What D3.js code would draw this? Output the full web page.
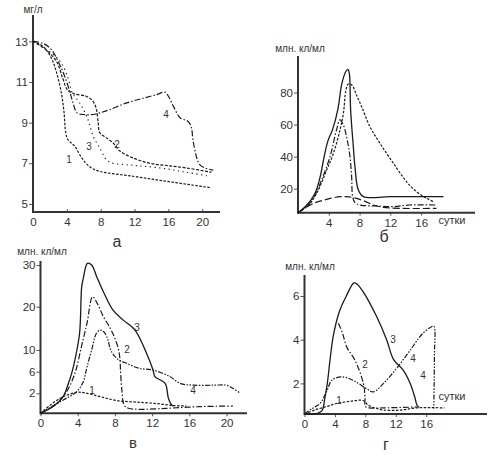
<!DOCTYPE html>
<html>
<head>
<meta charset="utf-8">
<script src="https://cdn.jsdelivr.net/npm/d3@7"></script>
<style>
  body { margin: 0; background: #fff; }
  svg { display: block; font-family: "Liberation Sans", Arial, sans-serif; }
</style>
</head>
<body>
<svg id="chart" width="501" height="461"></svg>
<script>
// --- panel а : мг/л over days ---
var aTicksX = [0, 4, 8, 12, 16, 20];
var aTicksY = [5, 7, 9, 11, 13];
var aLine1 = [[0,13],[1.2,12.75],[2.17,12.18],[2.76,11.5],[3.35,10.46],[3.67,9.5],[3.87,8.5],[4.14,8.16],[4.93,7.84],[5.9,7.18],[6.9,6.77],[7.9,6.6],[11.8,6.36],[15.8,6.11],[21.1,5.79]];
var aLine2 = [[0,13],[1.5,12.6],[2.8,12.0],[3.5,11.2],[4.1,10.6],[4.93,10.41],[6.3,10.3],[7.1,10.05],[7.5,9.64],[7.7,9.0],[7.9,8.5],[8.68,8.25],[9.47,8.0],[10.26,7.6],[11.83,7.26],[13.8,7.0],[15.8,6.89],[18.1,6.77],[21.1,6.56]];
var aLine3 = [[0,13],[2.17,12.43],[3.35,11.93],[4.14,11.2],[4.65,10.46],[5.52,9.97],[6.5,9.15],[7.1,8.33],[7.89,7.75],[8.68,7.18],[9.27,7.02],[11.83,6.9],[15,6.77],[18.1,6.56],[20.9,6.36]];
var aLine4 = [[0,13],[1.2,12.9],[2.17,12.6],[3.16,11.85],[3.75,11.28],[4.34,10.54],[4.73,9.97],[5.2,9.48],[5.9,9.4],[7.1,9.4],[7.9,9.48],[9.07,9.64],[11.05,9.97],[13.0,10.2],[14.6,10.38],[15.6,10.5],[16.0,10.3],[16.6,9.8],[17.4,9.23],[18.3,9.07],[18.7,8.8],[18.9,8.16],[19.3,7.34],[19.7,6.93],[20.3,6.77],[21.3,6.66]];

// --- panel б : млн. кл/мл ---
var bTicksX = [4, 8, 12, 16];
var bTicksY = [20, 40, 60, 80];
var bSolid = [[0,5],[1,9],[2.2,17],[2.86,27],[3.4,40],[3.9,50],[4.5,57],[5.2,70],[5.67,85],[6.2,93],[6.5,94.5],[6.67,92],[6.84,69],[7.19,46.2],[7.4,33.7],[7.84,19.1],[8.5,15],[12,15],[18.9,15]];
var bDotted = [[0,5],[1.56,10.8],[2.64,19.2],[3.72,31.6],[4.6,42],[5.45,56.6],[5.9,67],[6.23,81.6],[6.54,85.3],[7,84.7],[7.6,78.4],[8.27,71.2],[9.35,58.7],[10.65,48.3],[12.4,35.8],[14.1,24.4],[15.4,18.1],[16.7,14],[17.6,11.9]];
var bDashDot = [[0,5],[1.2,9],[2.2,16],[3.07,25.4],[4.16,40],[5.0,56.6],[5.45,62.9],[5.9,59.7],[6.4,50.4],[6.75,40],[6.97,27.5],[7.1,15],[7.4,11.3],[8.05,9.8],[10.2,9.2],[12.4,8.8],[14.5,9.8],[18,9.8]];
var bLongDash = [[0,5],[2.0,10.8],[3.72,13.3],[5.45,15],[6.3,15],[7.2,14.4],[8.5,12.5],[9.8,9.8],[11.1,8.3],[13.2,7.7],[18,7.7]];

// --- panel в : млн. кл/мл ---
var cTicksX = [0, 4, 8, 12, 16, 20];
var cTicksY = [2, 6, 10, 20, 30];
var cLine1 = [[0,0],[2.1,1.5],[3.9,2.17],[4.8,2.07],[6.4,1.67],[8.2,1.27],[10.7,1.1],[12.9,0.93],[14.3,0.77],[15.7,0.73]];
var cLine2 = [[0,0],[1.75,1],[2.8,2.3],[3.7,5.7],[4.4,10.8],[5.0,16.2],[5.6,22.4],[6.1,20.8],[6.76,17.7],[7.5,15],[8.0,12.7],[8.4,10],[8.55,8.15],[8.6,6.3],[8.76,2.33],[8.98,0.83],[9.45,0.5],[10.7,0.4],[13.6,0.5],[17.2,0.67],[20.7,0.73]];
var cLine3 = [[0,0],[1.4,0.7],[2.45,1.7],[3.0,3.85],[3.35,5.7],[3.7,8.2],[4.2,13.8],[4.43,24.8],[4.6,26.8],[5.04,30.4],[5.5,30],[6.04,27.2],[6.76,23.6],[7.8,19.2],[8.9,16.9],[10.16,14.6],[11.4,9.4],[12.1,6.3],[12.3,5.1],[13.4,3.85],[13.75,1.5],[14.1,0.83],[14.3,0.73]];
var cLine4 = [[0,0],[2.45,1.33],[3.9,2.33],[4.6,4.15],[5.0,6.9],[5.5,10],[6.0,13.8],[6.4,14.6],[6.8,14.2],[7.2,12.7],[7.55,10],[8.2,8.46],[9.3,7.5],[10.7,6.6],[12.1,6.3],[13.9,5.1],[15,3.85],[16.4,3.5],[18.6,3.5],[20,3.5],[20.7,2.9],[21.5,2]];

// --- panel г : млн. кл/мл ---
var dTicksX = [0, 4, 8, 12, 16];
var dTicksY = [2, 4, 6];
var dLine1 = [[0,0.6],[1.5,0.8],[3,0.95],[4.2,1.08],[6,1.18],[7.7,1.22],[8.4,1.0],[9.5,0.85],[10.4,0.78],[12.6,0.78],[14.8,0.88],[18.4,0.88]];
var dLine2 = [[4.45,4.75],[5.0,4.3],[5.55,3.67],[6.64,3.06],[7.74,2.0],[7.96,1.38],[8.0,0.95],[8.5,0.88],[10.4,0.88],[14.8,0.92]];
var dLine3 = [[0,0.6],[1.6,0.62],[2.3,0.75],[2.7,1.38],[3.0,2.0],[3.4,3.2],[3.8,4.2],[4.6,5.3],[5.5,6.0],[6.5,6.6],[6.9,6.55],[7.7,6.2],[9.5,5.05],[10.8,4.0],[11.7,3.1],[13,2.6],[13.9,2.0],[14.5,1.38],[14.8,1.0],[15.1,0.9]];
var dLine4 = [[0,0.6],[1.0,0.85],[2.04,1.08],[3.0,1.7],[3.58,2.14],[4.9,2.3],[6.4,2.14],[8.2,1.75],[9.05,1.61],[10.4,2.0],[12.1,2.68],[13.9,3.52],[15.6,4.3],[17,4.62],[17.15,4.4],[17.1,3.5],[17.05,2],[17,0.85]];

var DASH = {
  solid: null,
  fine: "2.5,1.5",
  dash: "3,1.5",
  dots: "1.2,3.5",
  dashdot: "6,2,1.5,2",
  dashdotdot: "5,1.5,1.5,1.5,1.5,1.5",
  longdash: "7,3"
};

var svg = d3.select("#chart");
var ink = "#1a1a1a";
var tickFont = "Liberation Sans, Arial, sans-serif";

function drawPanel(p) {
  var g = svg.append("g").attr("class", "panel");

  // tick marks + labels, built by d3 axes
  var xAxis = d3.axisBottom(p.x)
    .tickValues(p.ticksX)
    .tickFormat(d3.format("d"))
    .tickSize(p.xTickUp ? -3 : 3)
    .tickPadding(p.xTickUp ? 6 : 3);
  var gx = g.append("g")
    .attr("transform", "translate(0," + p.y.range()[0] + ")")
    .call(xAxis);
  gx.select(".domain").remove();
  gx.selectAll("text").attr("font-size", 11.5).attr("fill", "#333").attr("font-family", tickFont);
  gx.selectAll("line").attr("stroke", "#555");

  var yAxis = d3.axisLeft(p.y)
    .tickValues(p.ticksY)
    .tickFormat(d3.format("d"))
    .tickSize(4)
    .tickPadding(1);
  var gy = g.append("g")
    .attr("transform", "translate(" + p.x(0) + ",0)")
    .call(yAxis);
  gy.select(".domain").remove();
  gy.selectAll("text").attr("font-size", 11.5).attr("fill", "#333").attr("font-family", tickFont);
  gy.selectAll("line").attr("stroke", "#555");

  // the thick axis lines
  g.append("line")
    .attr("x1", p.x(0)).attr("x2", p.x.range()[1])
    .attr("y1", p.y.range()[0]).attr("y2", p.y.range()[0])
    .attr("stroke", "#333").attr("stroke-width", 2);
  g.append("line")
    .attr("x1", p.x(0)).attr("x2", p.x(0))
    .attr("y1", p.y.range()[0] + 1).attr("y2", p.yTop)
    .attr("stroke", "#333").attr("stroke-width", 2);

  var line = d3.line()
    .x(function(d) { return p.x(d[0]); })
    .y(function(d) { return p.y(d[1]); })
    .curve(d3.curveCatmullRom.alpha(0.5));

  p.series.forEach(function(s) {
    g.append("path")
      .datum(s.data)
      .attr("d", line)
      .attr("fill", "none")
      .attr("stroke", ink)
      .attr("stroke-width", s.style === "solid" ? 1.3 : 1.2)
      .attr("stroke-dasharray", DASH[s.style]);
  });

  (p.notes || []).forEach(function(n) {
    g.append("text")
      .attr("x", n[0]).attr("y", n[1])
      .attr("font-size", n[3] || 10)
      .attr("fill", "#333")
      .attr("text-anchor", n[4] || "middle")
      .text(n[2]);
  });
}

// а
drawPanel({
  x: d3.scaleLinear().domain([0, 22.1]).range([33, 220]),
  y: d3.scaleLinear().domain([4.6, 14.3]).range([212, 15]),
  yTop: 15,
  xTickUp: true,
  ticksX: aTicksX, ticksY: aTicksY,
  series: [
    {data: aLine1, style: "fine"},
    {data: aLine2, style: "dash"},
    {data: aLine3, style: "dots"},
    {data: aLine4, style: "dashdot"}
  ],
  notes: [[69, 163, "1"], [89, 150, "3"], [117, 148, "2"], [166, 118, "4"],
          [33, 13, "мг/л"], [117, 247, "а", 16]]
});

// б
drawPanel({
  x: d3.scaleLinear().domain([0, 23]).range([298, 475]),
  y: d3.scaleLinear().domain([5, 103]).range([212.7, 55.7]),
  yTop: 56,
  ticksX: bTicksX, ticksY: bTicksY,
  series: [
    {data: bSolid, style: "solid"},
    {data: bDotted, style: "fine"},
    {data: bDashDot, style: "dashdot"},
    {data: bLongDash, style: "longdash"}
  ],
  notes: [[300, 52, "млн. кл/мл"], [452, 224, "сутки", 11], [384, 242, "б", 16]]
});

// в
drawPanel({
  x: d3.scaleLinear().domain([0, 22.2]).range([40.5, 247]),
  y: d3.scaleLinear().domain([0, 2, 6, 10, 20, 30]).range([413.3, 393.3, 371.7, 350, 306.7, 265]),
  yTop: 261,
  ticksX: cTicksX, ticksY: cTicksY,
  series: [
    {data: cLine1, style: "fine"},
    {data: cLine2, style: "dashdot"},
    {data: cLine3, style: "solid"},
    {data: cLine4, style: "dashdotdot"}
  ],
  notes: [[92, 394, "1"], [127, 353, "2"], [137, 331, "3"], [193, 394, "4"],
          [42, 255, "млн. кл/мл"], [133, 448, "в", 15]]
});

// г
drawPanel({
  x: d3.scaleLinear().domain([0, 24]).range([304.5, 487]),
  y: d3.scaleLinear().domain([0.6, 6.96]).range([414, 275]),
  yTop: 275,
  ticksX: dTicksX, ticksY: dTicksY,
  series: [
    {data: dLine1, style: "fine"},
    {data: dLine2, style: "dashdot"},
    {data: dLine3, style: "solid"},
    {data: dLine4, style: "dashdotdot"}
  ],
  notes: [[339, 404, "1"], [365, 368, "2"], [393, 343, "3"], [413, 362, "4"], [423, 379, "4"],
          [310, 270, "млн. кл/мл"], [452, 400, "сутки", 11], [386, 450, "г", 16]]
});
</script>
</body>
</html>
